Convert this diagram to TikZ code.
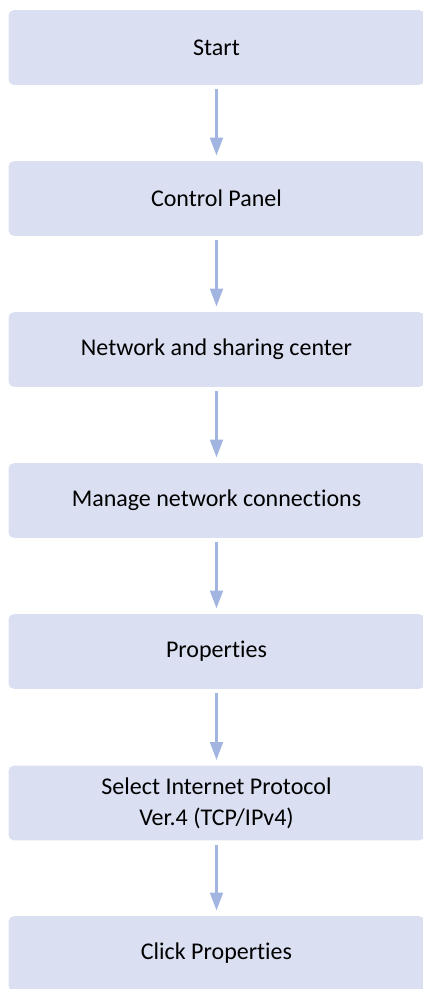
\documentclass[tikz,border=0pt]{standalone}
\usepackage{fontspec}
\setmainfont{Carlito}[Ligatures=NoCommon]
\usetikzlibrary{arrows.meta}
\definecolor{boxfill}{RGB}{218,224,242}
\definecolor{arrowblue}{RGB}{162,180,224}

\begin{document}
\begin{tikzpicture}[x=0.75pt, y=-0.75pt,
  stepbox/.style={fill=boxfill, rounded corners=4pt, inner sep=0pt,
    minimum width=312pt, minimum height=56pt, align=center,
    font=\fontsize{18}{23.5}\selectfont},
  flow/.style={arrowblue, line width=2.2pt, shorten <=3pt, shorten >=4pt,
    -{Triangle[length=13.5pt, width=9.5pt]}}]

% Cadre
\useasboundingbox (0,0) rectangle (422,989);

% Etapes
\node[stepbox] (start)   at (216.5, 47.5) {Start};
\node[stepbox] (panel)   at (216.5,198.5) {Control Panel};
\node[stepbox] (network) at (216.5,349.5) {Network and sharing center};
\node[stepbox] (manage)  at (216.5,500.5) {Manage network connections};
\node[stepbox] (props)   at (216.5,651.5) {Properties};
\node[stepbox] (select)  at (216.5,803)   {Select Internet Protocol\\Ver.4 (TCP/IPv4)};
\node[stepbox] (click)   at (216.5,953.5) {Click Properties};

% Fleches
\foreach \a/\b in {start/panel, panel/network, network/manage,
                   manage/props, props/select, select/click} {
  \draw[flow] (\a.south) -- (\b.north);
}

\end{tikzpicture}
\end{document}
